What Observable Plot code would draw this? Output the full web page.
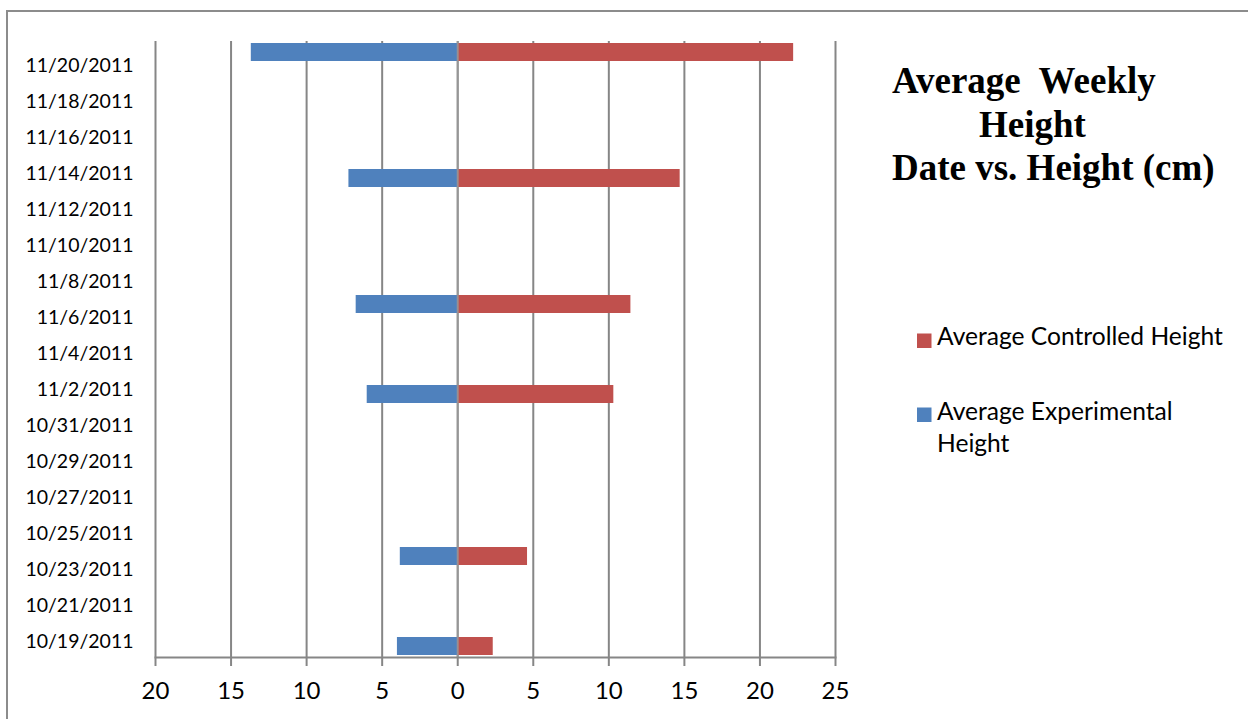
<!DOCTYPE html>
<html>
<head>
<meta charset="utf-8">
<script src="https://cdn.jsdelivr.net/npm/d3@7"></script>
<script src="https://cdn.jsdelivr.net/npm/@observablehq/plot@0.6"></script>
<style>
  html, body { margin: 0; padding: 0; background: #fff; overflow: hidden; width: 1248px; height: 719px; }
  #wrap { position: relative; width: 1248px; height: 719px; overflow: hidden; }
  #chart { position: absolute; left: 0; top: 0; }
  #overlay { position: absolute; left: 0; top: 0; }
</style>
</head>
<body>
<div id="wrap">
  <div id="chart"></div>
  <svg id="overlay" width="1248" height="719"></svg>
</div>
<script>
// ---- data ----
const barDates = ["10/19/2011", "10/24/2011", "11/2/2011", "11/7/2011", "11/14/2011", "11/21/2011"];
const controlled = [2.35, 4.62, 10.33, 11.46, 14.72, 22.23];
const experimental = [3.99, 3.80, 5.99, 6.72, 7.20, 13.66];
const yTickLabels = ["10/19/2011", "10/21/2011", "10/23/2011", "10/25/2011", "10/27/2011", "10/29/2011",
  "10/31/2011", "11/2/2011", "11/4/2011", "11/6/2011", "11/8/2011", "11/10/2011", "11/12/2011",
  "11/14/2011", "11/16/2011", "11/18/2011", "11/20/2011"];
const xTicks = [-20, -15, -10, -5, 0, 5, 10, 15, 20, 25];
const seriesNames = ["Average Controlled Height", "Average Experimental Height"];
const seriesColors = ["#C0504D", "#4F81BD"];
const titleLines = ["Average  Weekly", "Height", "Date vs. Height (cm)"];

// ---- build ----
const fmt = d3.utcFormat("%-m/%-d/%Y");
const dayDomain = d3.utcDay.range(new Date(Date.UTC(2011, 9, 19)), new Date(Date.UTC(2011, 10, 22))).map(fmt);

const rows = [];
barDates.forEach((d, i) => {
  rows.push({date: d, series: seriesNames[0], value: controlled[i]});
  rows.push({date: d, series: seriesNames[1], value: -experimental[i]});
});

const grid = "#868686";
const chart = Plot.plot({
  width: 1248,
  height: 719,
  marginLeft: 155,
  marginRight: 413,
  marginTop: 41,
  marginBottom: 62,
  style: {fontFamily: "Lato, sans-serif", background: "transparent", color: "#000"},
  x: {domain: [-20, 25]},
  y: {type: "band", domain: dayDomain, reverse: true, padding: 0},
  color: {domain: seriesNames, range: seriesColors},
  marks: [
    Plot.ruleX(xTicks, {stroke: grid, strokeWidth: 2}),
    Plot.barX(rows, {x: "value", y: "date", fill: "series"}),
    Plot.ruleX([0], {stroke: "#9a9a9a", strokeWidth: 2, strokeOpacity: 0.8}),
    Plot.frame({anchor: "bottom", stroke: grid, strokeWidth: 2}),
    Plot.axisX({ticks: xTicks, tickFormat: d => Math.abs(d), tickSize: 9, tickPadding: 15,
      fontSize: 24, stroke: grid, strokeWidth: 2, fill: "#000", label: null}),
    Plot.axisY({ticks: yTickLabels, tickSize: 0, tickPadding: 22, fontSize: 19.5, dy: -4.5, fill: "#000", label: null})
  ]
});
document.getElementById("chart").appendChild(chart);

// ---- outer frame (left & top edges only), title & legend overlay ----
const ov = d3.select("#overlay");
ov.append("path").attr("d", "M7,719V11H1248").attr("fill", "none")
  .attr("stroke", "#8c8c8c").attr("stroke-width", 2);
const tx = [892, 979, 892];
const tb = [93.3, 136.7, 180];
titleLines.forEach((t, i) => {
  ov.append("text").attr("x", tx[i]).attr("y", tb[i])
    .attr("font-family", "'Liberation Serif', 'Times New Roman', serif")
    .attr("font-weight", "bold").attr("font-size", 37)
    .attr("xml:space", "preserve").style("white-space", "pre")
    .text(t);
});
const leg = [
  {color: seriesColors[0], sq: 333.5, lines: ["Average Controlled Height"], base: [345]},
  {color: seriesColors[1], sq: 407.5, lines: ["Average Experimental", "Height"], base: [420, 451.7]}
];
leg.forEach(l => {
  ov.append("rect").attr("x", 917).attr("y", l.sq).attr("width", 14.5).attr("height", 14.5).attr("fill", l.color);
  l.lines.forEach((t, j) => {
    ov.append("text").attr("x", 937).attr("y", l.base[j])
      .attr("font-family", "Lato, sans-serif").attr("font-size", 24.6).text(t);
  });
});
</script>
</body>
</html>
